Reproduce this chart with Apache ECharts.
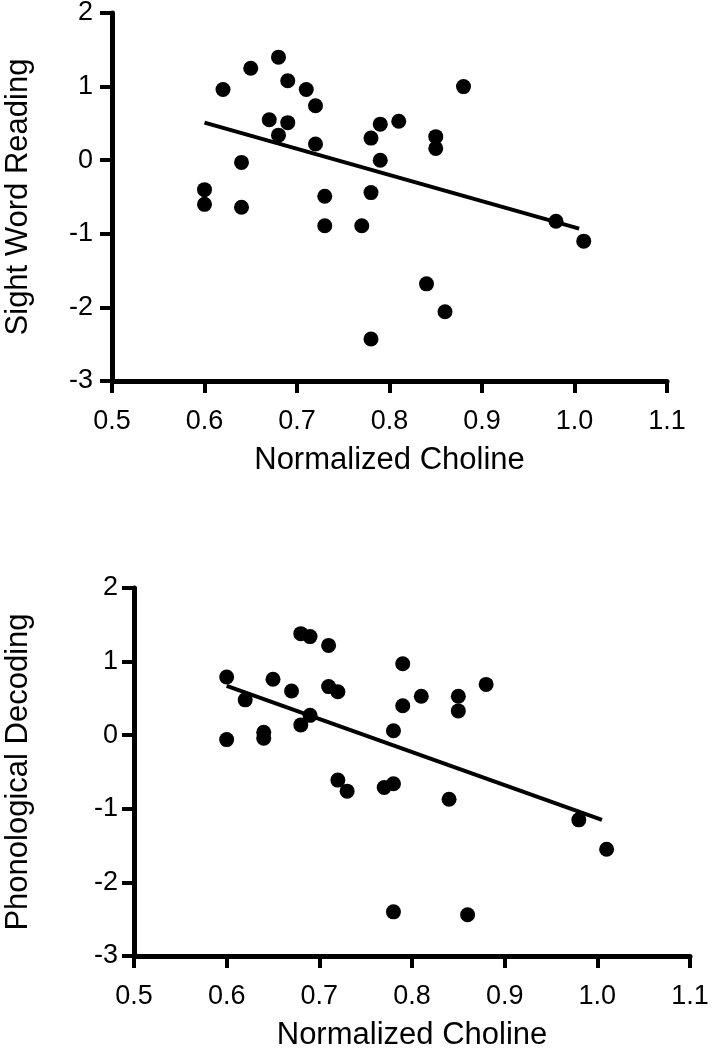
<!DOCTYPE html>
<html>
<head>
<meta charset="utf-8">
<script src="https://cdn.jsdelivr.net/npm/echarts@6/dist/echarts.min.js"></script>
<style>
  html, body { margin: 0; padding: 0; background: #fff; }
  #chart { width: 715px; height: 1050px; }
</style>
</head>
<body>
<div id="chart"></div>
<script>
// Sight word reading vs normalized choline
const sightX = [0.62, 0.65, 0.68, 0.69, 0.71, 0.72, 0.67, 0.69, 0.68, 0.72, 0.64, 0.60, 0.60, 0.64, 0.73,
  0.73, 0.77, 0.88, 0.79, 0.81, 0.78, 0.85, 0.85, 0.79, 0.78, 0.98, 1.01, 0.84, 0.86, 0.78];
const sightY = [0.96, 1.25, 1.40, 1.08, 0.96, 0.74, 0.55, 0.51, 0.34, 0.22, -0.03, -0.40, -0.60, -0.64, -0.49,
  -0.89, -0.89, 1.00, 0.49, 0.53, 0.30, 0.32, 0.16, 0.00, -0.44, -0.83, -1.10, -1.68, -2.06, -2.43];
const sightFit = [[0.60, 0.51], [1.005, -0.93]];

// Phonological decoding vs normalized choline
const phonX = [0.60, 0.60, 0.62, 0.64, 0.64, 0.65, 0.67, 0.68, 0.69, 0.71, 0.71, 0.72, 0.68, 0.69, 0.72,
  0.73, 0.79, 0.88, 0.81, 0.85, 0.85, 0.79, 0.78, 0.77, 0.78, 0.84, 0.98, 1.01, 0.78, 0.86];
const phonY = [0.79, -0.06, 0.48, 0.04, -0.04, 0.76, 0.60, 1.38, 1.34, 1.22, 0.66, 0.59, 0.14, 0.27, -0.61,
  -0.76, 0.97, 0.69, 0.53, 0.53, 0.33, 0.40, 0.06, -0.71, -0.66, -0.87, -1.15, -1.55, -2.40, -2.44];
const phonFit = [[0.60, 0.67], [1.005, -1.15]];

const xTitle = 'Normalized Choline';
const yTitles = ['Sight Word Reading', 'Phonological Decoding'];

const font = 'Liberation Sans, Arial, sans-serif';

function pairs(xs, ys) {
  return xs.map((x, i) => [x, ys[i]]);
}

function xAxis(idx) {
  return {
    gridIndex: idx, type: 'value', min: 0.5, max: 1.1, interval: 0.1,
    name: xTitle, nameLocation: 'middle', nameGap: 64,
    nameTextStyle: { fontFamily: font, fontSize: 31, color: '#000' },
    axisLine: { show: true, onZero: false, lineStyle: { color: '#000', width: 5 } },
    axisTick: { show: true, length: 12, lineStyle: { color: '#000', width: 4 } },
    axisLabel: { margin: 27, fontFamily: font, fontSize: 27, color: '#000',
      formatter: v => v.toFixed(1) },
    splitLine: { show: false }
  };
}

function yAxis(idx, gap, labelGap) {
  return {
    gridIndex: idx, type: 'value', min: -3, max: 2, interval: 1,
    name: yTitles[idx], nameLocation: 'middle', nameGap: gap, nameRotate: 90,
    nameTextStyle: { fontFamily: font, fontSize: 31, color: '#000' },
    axisLine: { show: true, onZero: false, lineStyle: { color: '#000', width: 5 } },
    axisTick: { show: true, length: 12, lineStyle: { color: '#000', width: 4 } },
    axisLabel: { margin: labelGap, fontFamily: font, fontSize: 27, color: '#000' },
    splitLine: { show: false }
  };
}

const chart = echarts.init(document.getElementById('chart'), null, { renderer: 'canvas' });
chart.setOption({
  backgroundColor: '#fff',
  animation: false,
  grid: [
    { left: 112, right: 48, top: 13, height: 368, containLabel: false, outerBoundsMode: 'none' },
    { left: 134, right: 25, top: 588, height: 368, containLabel: false, outerBoundsMode: 'none' }
  ],
  xAxis: [xAxis(0), xAxis(1)],
  yAxis: [yAxis(0, 78, 19), yAxis(1, 100, 16)],
  series: [
    {
      type: 'scatter', xAxisIndex: 0, yAxisIndex: 0, symbolSize: 15,
      itemStyle: { color: '#000', opacity: 1 }, data: pairs(sightX, sightY)
    },
    {
      type: 'line', xAxisIndex: 0, yAxisIndex: 0, showSymbol: false,
      lineStyle: { color: '#000', width: 4 }, data: sightFit
    },
    {
      type: 'scatter', xAxisIndex: 1, yAxisIndex: 1, symbolSize: 15,
      itemStyle: { color: '#000', opacity: 1 }, data: pairs(phonX, phonY)
    },
    {
      type: 'line', xAxisIndex: 1, yAxisIndex: 1, showSymbol: false,
      lineStyle: { color: '#000', width: 4 }, data: phonFit
    }
  ]
});
</script>
</body>
</html>
